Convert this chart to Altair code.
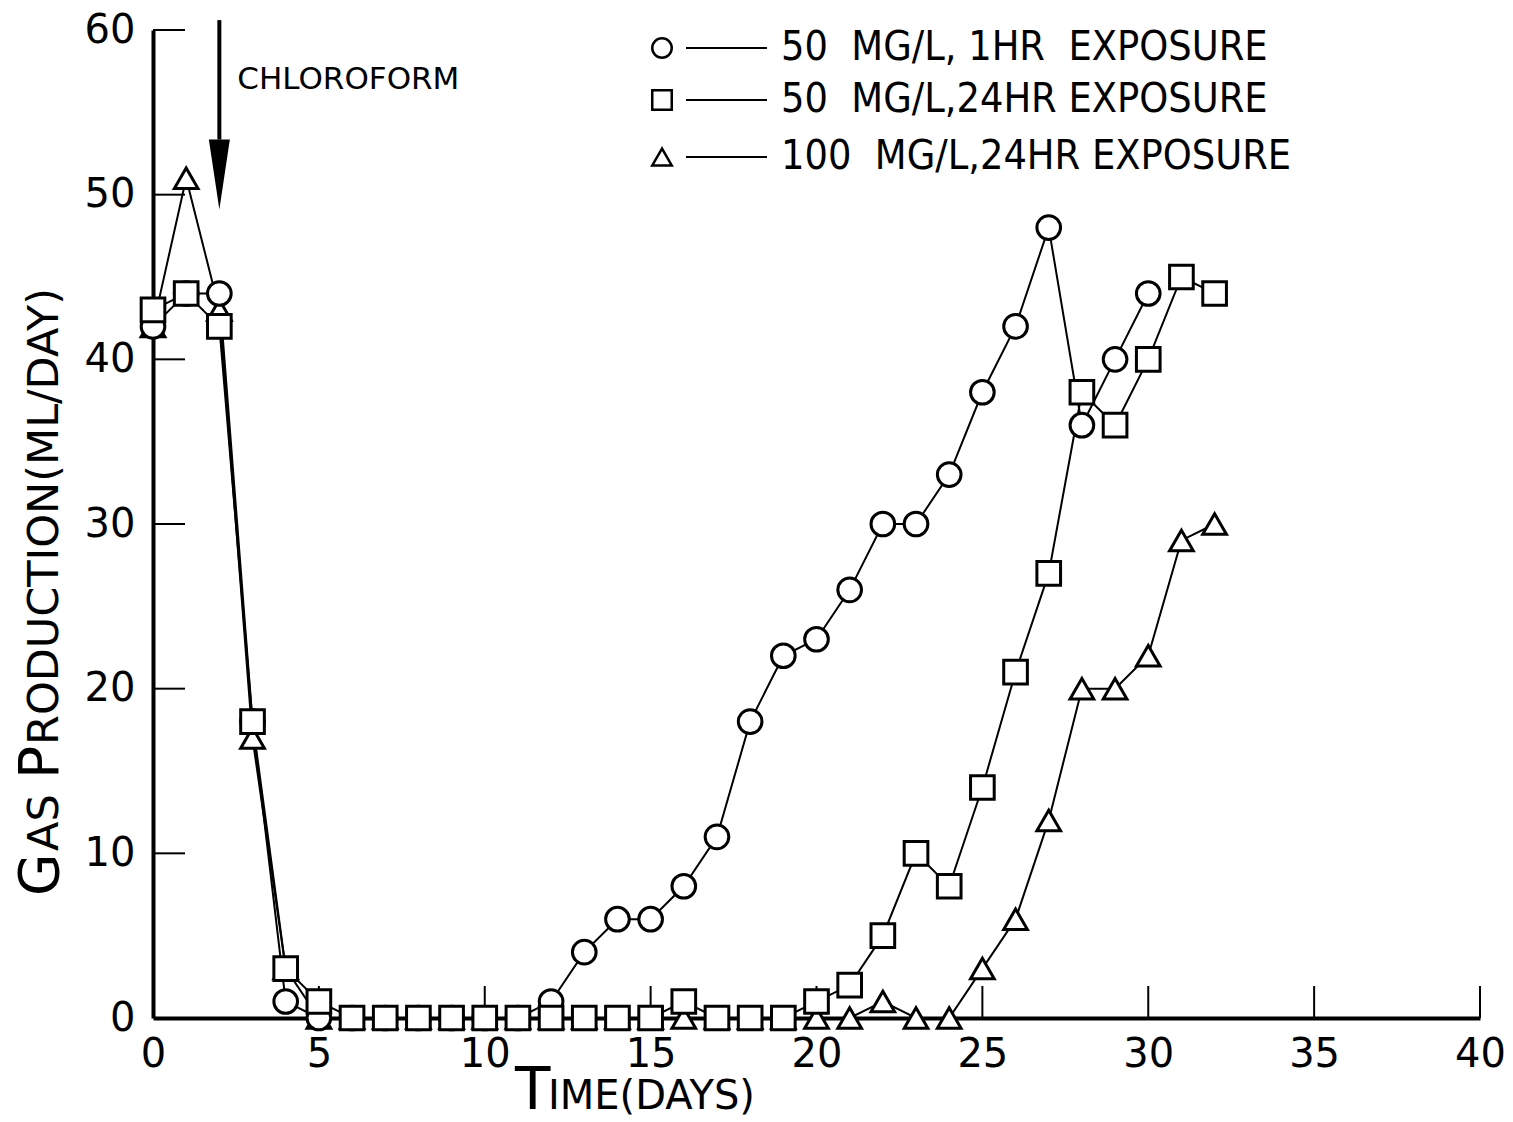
import altair as alt
import pandas as pd

# ---- data -------------------------------------------------------------
series_names = [
    "50\u00a0 MG/L, 1HR\u00a0 EXPOSURE",
    "50\u00a0 MG/L,24HR EXPOSURE",
    "100\u00a0 MG/L,24HR EXPOSURE",
]
series_shapes = ["circle", "square", "triangle-up"]

# daily gas production (ML/DAY)
gas_50_1hr = [42, 44, 44, 18, 1, 0, 0, 0, 0, 0, 0, 0, 1, 4, 6, 6, 8, 11, 18, 22,
              23, 26, 30, 30, 33, 38, 42, 48, 36, 40, 44]
gas_50_24hr = [43, 44, 42, 18, 3, 1, 0, 0, 0, 0, 0, 0, 0, 0, 0, 0, 1, 0, 0, 0,
               1, 2, 5, 10, 8, 14, 21, 27, 38, 36, 40, 45, 44]
gas_100_24hr = [42, 51, 43, 17, 3, 0, 0, 0, 0, 0, 0, 0, 0, 0, 0, 0, 0, 0, 0, 0,
                0, 0, 1, 0, 0, 3, 6, 12, 20, 20, 22, 29, 30]

x_ticks = [0, 5, 10, 15, 20, 25, 30, 35, 40]
y_ticks = [0, 10, 20, 30, 40, 50, 60]

# chloroform dosing marker
dose_day = 2
arrow_top = 60.6
arrow_tip = 49.1
arrow_head_base = 53.35
note_y = 56.4
note_text = "CHLOROFORM"

# ---- long-form table --------------------------------------------------
rows = []
# drawing order: triangles, circles, squares on top
for name, values in [(series_names[2], gas_100_24hr),
                     (series_names[0], gas_50_1hr),
                     (series_names[1], gas_50_24hr)]:
    for day, v in enumerate(values):
        rows.append({"day": day, "gas": v, "series": name})
df = pd.DataFrame(rows)

FONT = "DejaVu Sans"
LEGEND_FONT = "DejaVu Sans Condensed"
W, H = 1327, 988

x_scale = alt.Scale(domain=[0, 40], nice=False)
y_scale = alt.Scale(domain=[0, 60], nice=False)
shape_scale = alt.Scale(domain=series_names, range=series_shapes)

x_axis = alt.Axis(values=x_ticks, title=None, grid=False, ticks=False, tickSize=0,
                  domainColor="black", domainWidth=4, labelFont=FONT,
                  labelFontSize=40, labelColor="black", labelPadding=16,
                  labelFlush=False, labelOverlap=False)
y_axis = alt.Axis(values=y_ticks, title=None, grid=False, ticks=False, tickSize=0,
                  domainColor="black", domainWidth=4, labelFont=FONT,
                  labelFontSize=40, labelColor="black", labelPadding=18,
                  labelFlush=False, labelOverlap=False)


def xq(field):
    return alt.X(field, type="quantitative", scale=x_scale, axis=x_axis)


def yq(field):
    return alt.Y(field, type="quantitative", scale=y_scale, axis=y_axis)


lines = alt.Chart(df).mark_line(color="black", strokeWidth=2).encode(
    x=xq("day"), y=yq("gas"), detail="series:N"
)

points = alt.Chart(df).mark_point(
    filled=False, color="black", fill="white", fillOpacity=1,
    strokeWidth=3, size=560, opacity=1
).encode(
    x=xq("day"),
    y=yq("gas"),
    shape=alt.Shape("series:N", scale=shape_scale, legend=None),
)

# inward tick marks
xt = alt.Chart(pd.DataFrame({"v": x_ticks[1:]})).mark_rule(
    color="black", strokeWidth=2
).encode(x=xq("v"), y=alt.value(H - 32), y2=alt.value(H))
yt = alt.Chart(pd.DataFrame({"v": y_ticks[1:]})).mark_rule(
    color="black", strokeWidth=2
).encode(y=yq("v"), x=alt.value(0), x2=alt.value(32))

# dosing arrow and note
arrow_df = pd.DataFrame({"day": [dose_day], "top": [arrow_top], "tip": [arrow_tip],
                         "base": [arrow_head_base], "note_y": [note_y],
                         "note": [note_text]})
shaft = alt.Chart(arrow_df).mark_rule(color="black", strokeWidth=4).encode(
    x=xq("day"), y=yq("top"), y2="base:Q"
)
head = alt.Chart(arrow_df).mark_point(
    shape="M-0.3,-2L0.3,-2L0,0Z", filled=True, color="black", size=4900, opacity=1
).encode(x=xq("day"), y=yq("tip"))
note = alt.Chart(arrow_df).mark_text(
    align="left", baseline="alphabetic", dx=18, font=FONT, fontSize=31, color="black"
).encode(x=xq("day"), y=yq("note_y"), text="note:N")

# key: symbol, connecting line, label for each series
key_df = pd.DataFrame({"series": series_names, "ky": [18, 70, 127]})
key_base = alt.Chart(key_df)
key_sym = key_base.mark_point(
    filled=False, color="black", fill="white", fillOpacity=1,
    strokeWidth=2.5, size=380, opacity=1
).encode(
    x=alt.value(509),
    y=alt.Y("ky:Q", scale=None),
    shape=alt.Shape("series:N", scale=shape_scale, legend=None),
)
key_line = key_base.mark_rule(color="black", strokeWidth=2).encode(
    x=alt.value(533), x2=alt.value(614), y=alt.Y("ky:Q", scale=None)
)
key_text = key_base.mark_text(
    align="left", baseline="middle", font=LEGEND_FONT, fontSize=41, color="black"
).encode(x=alt.value(628), y=alt.Y("ky:Q", scale=None), text="series:N")

# axis titles in small capitals
ytitle_df = pd.DataFrame({
    "t": ["G", "AS", "P", "RODUCTION(ML/DAY)"],
    "py": [866, 821, 749, 715],
    "fs": [55, 43, 55, 43],
})
ytitle = alt.Chart(ytitle_df).mark_text(
    angle=270, align="left", baseline="alphabetic", font=FONT, color="black"
).encode(
    x=alt.value(-95),
    y=alt.Y("py:Q", scale=None),
    size=alt.Size("fs:Q", scale=None, legend=None),
    text="t:N",
)
xtitle_df = pd.DataFrame({
    "t": ["T", "IME(DAYS)"],
    "px": [362, 395],
    "fs": [58, 40],
})
xtitle = alt.Chart(xtitle_df).mark_text(
    align="left", baseline="alphabetic", font=FONT, color="black"
).encode(
    x=alt.X("px:Q", scale=None),
    y=alt.value(1079),
    size=alt.Size("fs:Q", scale=None, legend=None),
    text="t:N",
)

chart = alt.layer(
    xt, yt, lines, points, shaft, head, note,
    key_line, key_sym, key_text, ytitle, xtitle
).resolve_scale(size="independent").properties(
    width=W, height=H,
    autosize=alt.AutoSizeParams(type="none"),
    padding={"left": 153, "top": 30, "right": 33, "bottom": 104},
    background="white",
).configure_view(stroke="transparent")

chart.save("out.html", embed_options={"renderer": "svg", "actions": False})
